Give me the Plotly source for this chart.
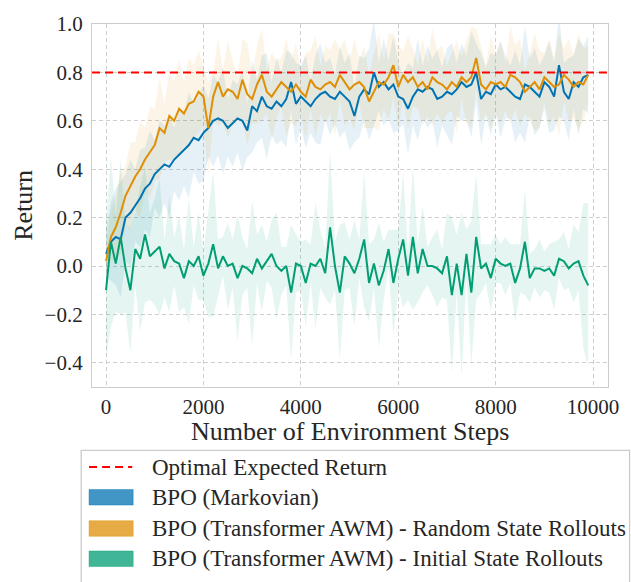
import plotly.graph_objects as go

# ---------------- data ----------------
steps = list(range(0, 10000, 100))

markov_mean = [
    0.05, 0.10, 0.12, 0.11, 0.20, 0.22, 0.25, 0.28, 0.32, 0.34,
    0.38, 0.40, 0.42, 0.41, 0.44, 0.46, 0.48, 0.50, 0.53, 0.52,
    0.55, 0.57, 0.60, 0.61, 0.60, 0.57, 0.59, 0.61, 0.60, 0.56,
    0.66, 0.64, 0.70, 0.66, 0.65, 0.68, 0.66, 0.69, 0.76, 0.67,
    0.70, 0.68, 0.66, 0.69, 0.71, 0.72, 0.70, 0.69, 0.72, 0.70,
    0.68, 0.62, 0.70, 0.73, 0.71, 0.80, 0.74, 0.76, 0.73, 0.75,
    0.70, 0.69, 0.65, 0.70, 0.73, 0.72, 0.74, 0.73, 0.69, 0.70,
    0.72, 0.71, 0.73, 0.76, 0.74, 0.75, 0.80, 0.69, 0.72, 0.71,
    0.75, 0.73, 0.74, 0.72, 0.70, 0.69, 0.75, 0.74, 0.72, 0.70,
    0.76, 0.74, 0.70, 0.83, 0.72, 0.69, 0.76, 0.74, 0.78, 0.79,
]
markov_spread = [
    0.10, 0.16, 0.20, 0.24, 0.18, 0.22, 0.15, 0.20, 0.17, 0.22,
    0.14, 0.20, 0.16, 0.21, 0.13, 0.19, 0.15, 0.22, 0.14, 0.18,
    0.20, 0.12, 0.19, 0.15, 0.22, 0.12, 0.18, 0.14, 0.21, 0.11,
    0.19, 0.13, 0.17, 0.22, 0.11, 0.18, 0.14, 0.20, 0.12, 0.17,
    0.13, 0.19, 0.11, 0.18, 0.21, 0.12, 0.16, 0.10, 0.19, 0.14,
    0.20, 0.11, 0.17, 0.13, 0.19, 0.22, 0.10, 0.18, 0.12, 0.20,
    0.14, 0.10, 0.19, 0.12, 0.21, 0.11, 0.17, 0.13, 0.20, 0.12,
    0.18, 0.21, 0.11, 0.16, 0.13, 0.22, 0.12, 0.19, 0.10, 0.17,
    0.12, 0.20, 0.13, 0.11, 0.19, 0.14, 0.24, 0.12, 0.18, 0.13,
    0.11, 0.19, 0.14, 0.21, 0.12, 0.17, 0.11, 0.20, 0.13, 0.16,
]

random_mean = [
    0.02, 0.12, 0.16, 0.22, 0.29, 0.33, 0.37, 0.40, 0.44, 0.47,
    0.50, 0.57, 0.55, 0.62, 0.60, 0.65, 0.63, 0.67, 0.68, 0.72,
    0.70, 0.57, 0.70, 0.76, 0.70, 0.73, 0.72, 0.69, 0.77, 0.71,
    0.69, 0.75, 0.79, 0.72, 0.70, 0.73, 0.76, 0.74, 0.72, 0.75,
    0.72, 0.70, 0.77, 0.74, 0.73, 0.75, 0.76, 0.74, 0.79, 0.76,
    0.73, 0.75, 0.76, 0.74, 0.68, 0.72, 0.76, 0.75, 0.78, 0.83,
    0.74, 0.79, 0.76, 0.78, 0.74, 0.76, 0.73, 0.78, 0.76, 0.75,
    0.73, 0.76, 0.74, 0.78, 0.76, 0.78, 0.86, 0.75, 0.73, 0.76,
    0.75, 0.76, 0.74, 0.79, 0.78, 0.76, 0.72, 0.74, 0.76, 0.73,
    0.78, 0.76, 0.74, 0.75, 0.79, 0.77, 0.74, 0.76, 0.75, 0.79,
]
random_spread = [
    0.06, 0.10, 0.13, 0.17, 0.12, 0.18, 0.14, 0.20, 0.13, 0.19,
    0.15, 0.21, 0.12, 0.18, 0.16, 0.20, 0.13, 0.19, 0.15, 0.17,
    0.12, 0.19, 0.10, 0.18, 0.11, 0.20, 0.13, 0.09, 0.17, 0.21,
    0.10, 0.16, 0.19, 0.09, 0.18, 0.12, 0.10, 0.20, 0.13, 0.17,
    0.09, 0.18, 0.12, 0.21, 0.10, 0.16, 0.13, 0.20, 0.10, 0.18,
    0.12, 0.19, 0.09, 0.17, 0.11, 0.15, 0.20, 0.10, 0.18, 0.13,
    0.17, 0.10, 0.19, 0.12, 0.09, 0.18, 0.11, 0.20, 0.13, 0.16,
    0.10, 0.12, 0.19, 0.09, 0.17, 0.21, 0.12, 0.16, 0.10, 0.19,
    0.12, 0.17, 0.10, 0.20, 0.13, 0.18, 0.09, 0.14, 0.20, 0.16,
    0.10, 0.18, 0.12, 0.21, 0.11, 0.17, 0.13, 0.20, 0.15, 0.12,
]

initial_mean = [
    -0.10, 0.10, 0.01, 0.12, -0.01, -0.10, 0.07, 0.03, 0.13, 0.04,
    0.06, 0.08, -0.01, 0.05, 0.02, 0.01, -0.05, 0.02, 0.00, 0.04,
    -0.04, 0.01, 0.09, -0.01, 0.04, 0.00, 0.01, -0.05, 0.00, -0.01,
    -0.03, 0.03, -0.01, 0.02, 0.05, 0.00, -0.02, 0.00, -0.11, 0.01,
    0.00, -0.07, 0.01, 0.00, 0.03, -0.03, 0.16, 0.00, -0.11, 0.04,
    0.01, -0.03, 0.03, 0.11, -0.07, 0.01, -0.08, -0.02, 0.07, -0.07,
    0.03, 0.11, -0.04, 0.12, -0.03, 0.07, 0.00, 0.00, -0.01, -0.03,
    0.04, -0.12, 0.01, -0.12, 0.05, -0.11, 0.12, -0.01, 0.01, -0.05,
    0.03, 0.01, 0.00, 0.01, -0.07, -0.01, 0.10, -0.05, -0.01, -0.01,
    -0.02, -0.01, -0.04, 0.03, 0.02, -0.01, 0.01, 0.02, -0.04, -0.08,
]
initial_spread = [
    0.28, 0.35, 0.20, 0.32, 0.18, 0.26, 0.15, 0.30, 0.28, 0.18,
    0.22, 0.28, 0.12, 0.24, 0.10, 0.20, 0.12, 0.26, 0.08, 0.18,
    0.10, 0.22, 0.30, 0.12, 0.08, 0.18, 0.10, 0.26, 0.12, 0.08,
    0.30, 0.10, 0.18, 0.08, 0.14, 0.22, 0.10, 0.08, 0.28, 0.12,
    0.10, 0.18, 0.08, 0.26, 0.12, 0.10, 0.32, 0.10, 0.28, 0.14,
    0.10, 0.22, 0.08, 0.28, 0.16, 0.10, 0.26, 0.12, 0.08, 0.22,
    0.12, 0.28, 0.10, 0.30, 0.12, 0.18, 0.08, 0.12, 0.16, 0.10,
    0.18, 0.32, 0.12, 0.34, 0.10, 0.30, 0.26, 0.10, 0.08, 0.14,
    0.10, 0.08, 0.12, 0.08, 0.16, 0.10, 0.22, 0.10, 0.08, 0.12,
    0.08, 0.10, 0.14, 0.08, 0.12, 0.08, 0.16, 0.12, 0.30, 0.34,
]

optimal_return = 0.8

series_names = [
    "BPO (Markovian)",
    "BPO (Transformer AWM) - Random State Rollouts",
    "BPO (Transformer AWM) - Initial State Rollouts",
]
x_ticks = [0, 2000, 4000, 6000, 8000, 10000]
y_ticks = [-0.4, -0.2, 0.0, 0.2, 0.4, 0.6, 0.8, 1.0]

# ---------------- style ----------------
W, H = 631, 582
PL, PR, PT, PB = 92, 618, 15, 387
FONT = "Liberation Serif"
TXT = "#262626"
rgb = [(1, 115, 178), (222, 143, 5), (2, 158, 115)]


def col(c, a=1.0):
    return f"rgba({c[0]},{c[1]},{c[2]},{a})"


def px(x):
    return (x - PL) / (PR - PL)


def py(y):
    return (PB - y) / (PB - PT)


means = [markov_mean, random_mean, initial_mean]
spreads = [markov_spread, random_spread, initial_spread]

fig = go.Figure()

for m, s, c in zip(means, spreads, rgb):
    upper = [a + b for a, b in zip(m, s)]
    lower = [a - b for a, b in zip(m, s)]
    fig.add_trace(go.Scatter(x=steps, y=upper, mode="lines", line=dict(width=0),
                             showlegend=False, hoverinfo="skip"))
    fig.add_trace(go.Scatter(x=steps, y=lower, mode="lines", line=dict(width=0),
                             fill="tonexty", fillcolor=col(c, 0.1),
                             showlegend=False, hoverinfo="skip"))

for m, c, n in zip(means, rgb, series_names):
    fig.add_trace(go.Scatter(x=steps, y=m, mode="lines", name=n,
                             line=dict(color=col(c), width=2), showlegend=False))

fig.add_hline(y=optimal_return, line=dict(color="red", width=2, dash="8px,5px"))

fig.update_layout(
    width=W, height=H,
    margin=dict(l=PL, r=W - PR, t=PT, b=H - PB),
    paper_bgcolor="white", plot_bgcolor="white",
    font=dict(family=FONT, color=TXT),
    showlegend=False,
)
axis_common = dict(
    showgrid=True, gridcolor="#cfcfcf", griddash="4px,3px", gridwidth=1,
    showline=True, linecolor="#cccccc", linewidth=1.3, mirror=True,
    zeroline=False, ticks="outside", tickcolor="rgba(0,0,0,0)",
    tickfont=dict(family=FONT, size=21, color=TXT),
)
fig.update_xaxes(range=[-288, 10306], tickvals=x_ticks, tickformat="d", ticklen=1, **axis_common)
fig.update_yaxes(range=[-0.5, 1.0], tickvals=y_ticks, tickformat=".1f", ticklen=4, **axis_common)

# axis titles
fig.add_annotation(text="Number of Environment Steps", xref="paper", yref="paper",
                   x=px(355), y=py(433), xanchor="center", yanchor="middle", showarrow=False,
                   font=dict(family=FONT, size=26, color=TXT))
fig.add_annotation(text="Return", xref="paper", yref="paper", textangle=-90,
                   x=px(22), y=py(201), xanchor="center", yanchor="middle", showarrow=False,
                   font=dict(family=FONT, size=26, color=TXT))

# legend (drawn manually below the plot)
fig.add_shape(type="rect", xref="paper", yref="paper",
              x0=px(81), x1=px(640), y0=py(452), y1=py(600),
              line=dict(color="#cccccc", width=1.3), fillcolor="white", layer="above")
rows = [469, 500, 532, 563]
fig.add_shape(type="line", xref="paper", yref="paper",
              x0=px(89), x1=px(133), y0=py(rows[0]), y1=py(rows[0]),
              line=dict(color="red", width=2, dash="8px,5px"), layer="above")
fig.add_annotation(text="Optimal Expected Return", xref="paper", yref="paper",
                   x=px(151), y=py(rows[0]), xanchor="left", yanchor="middle", showarrow=False,
                   font=dict(family=FONT, size=23, color=TXT))
for r, c, n in zip(rows[1:], rgb, series_names):
    fig.add_shape(type="rect", xref="paper", yref="paper",
                  x0=px(89), x1=px(134), y0=py(r - 8), y1=py(r + 8),
                  line=dict(color=col(c, 0.4), width=1), fillcolor=col(c, 0.75), layer="above")
    fig.add_annotation(text=n, xref="paper", yref="paper",
                       x=px(151), y=py(r), xanchor="left", yanchor="middle", showarrow=False,
                       font=dict(family=FONT, size=23, color=TXT))

fig.write_html("out.html")
